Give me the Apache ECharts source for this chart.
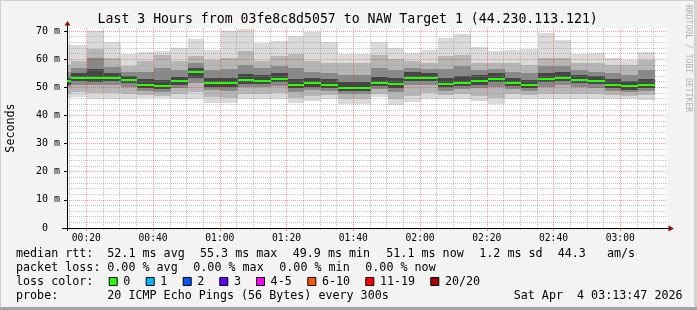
<!DOCTYPE html>
<html><head><meta charset="utf-8">
<script src="https://cdn.jsdelivr.net/npm/echarts@6/dist/echarts.min.js"></script>
<style>html,body{margin:0;padding:0;background:#f3f3f3}#c{width:697px;height:310px}</style>
</head><body><div id="c"></div>
<script>
// ---- data ----
const stepEnds = ['00:15','00:20','00:25','00:30','00:35','00:40','00:45','00:50','00:55','01:00','01:05','01:10',
  '01:15','01:20','01:25','01:30','01:35','01:40','01:45','01:50','01:55','02:00','02:05','02:10',
  '02:15','02:20','02:25','02:30','02:35','02:40','02:45','02:50','02:55','03:00','03:05','03:10'];
const median = [52.1,53.5,53.5,53.5,52.7,51.0,50.5,52.1,55.3,51.7,51.7,52.7,52.4,53.1,51.0,51.4,51.0,49.9,49.9,51.7,51.2,53.5,53.5,51.2,51.7,52.4,53.1,51.7,51.0,53.1,53.5,52.7,52.4,51.0,50.5,51.0];
const pingMax = [65.0,64.9,70.0,66.3,61.8,62.7,62.8,64.0,67.1,63.3,70.1,70.8,65.7,66.5,68.4,69.6,66.1,61.8,61.9,66.3,64.0,62.3,63.3,67.4,68.8,64.2,62.8,63.4,63.8,69.5,66.9,61.8,62.3,60.4,59.8,62.7];
const ping90 = [58.0,59.2,63.5,60.4,57.5,59.2,61.5,59.2,61.0,59.8,60.5,63.0,59.5,61.0,62.0,59.5,58.5,58.5,58.5,61.6,60.0,59.5,58.8,61.0,61.6,58.5,58.8,58.8,58.0,60.5,60.5,58.8,58.5,58.0,58.0,59.8];
const ping75 = [55.5,56.8,60.5,57.4,55.3,55.5,57.0,56.0,58.5,56.0,56.5,58.0,57.0,57.5,57.0,55.5,55.0,54.5,54.5,57.0,56.0,57.0,56.5,56.5,57.5,56.0,56.5,55.5,55.0,57.5,57.5,56.0,55.5,55.0,54.5,56.0];
const ping60 = [53.5,55.0,56.5,55.0,54.0,52.8,52.5,53.8,57.0,53.5,53.5,54.8,54.5,55.0,53.0,53.2,52.8,51.8,51.8,53.8,53.2,55.5,55.0,53.5,54.0,54.3,55.0,53.5,52.5,55.0,55.3,54.3,54.0,52.8,52.3,53.0];
const ping40 = [51.0,52.3,52.0,52.3,51.5,49.8,49.3,50.8,53.5,50.3,50.3,51.3,51.2,51.8,49.8,50.2,49.8,48.6,48.6,50.5,49.8,52.2,52.3,50.0,50.5,51.0,51.8,50.5,49.8,51.8,52.2,51.5,51.2,49.8,49.2,49.8];
const ping25 = [50.0,51.0,50.8,51.0,50.2,48.6,48.2,49.6,51.5,49.0,48.8,50.0,50.0,50.5,48.5,49.0,48.6,47.5,47.5,49.3,48.5,50.8,51.0,48.8,49.3,49.8,50.3,49.3,48.7,50.3,50.8,50.2,49.8,48.7,48.2,48.6];
const ping10 = [47.8,48.3,48.0,48.0,47.8,47.2,47.0,47.8,48.3,46.5,46.3,47.5,47.5,48.0,46.3,47.0,47.2,45.8,45.8,47.8,45.8,47.0,48.0,47.3,47.6,46.8,46.2,47.6,47.4,47.6,47.8,47.8,47.6,47.2,47.0,47.2];
const pingMin = [46.3,46.5,46.0,46.0,46.0,46.3,46.3,46.0,46.0,44.5,44.5,45.7,45.7,46.0,44.5,45.1,45.7,44.1,44.1,46.5,43.9,44.8,46.0,46.0,46.0,45.1,44.1,46.0,46.0,45.7,45.7,46.0,46.0,46.0,46.0,45.4];
const xMajorLabels = ['00:20','00:40','01:00','01:20','01:40','02:00','02:20','02:40','03:00'];
const xMinorTimes = ['00:15','00:25','00:30','00:35','00:45','00:50','00:55','01:05','01:10','01:15','01:25','01:30','01:35',
  '01:45','01:50','01:55','02:05','02:10','02:15','02:25','02:30','02:35','02:45','02:50','02:55','03:05','03:10'];
const yMajor = [0,10,20,30,40,50,60,70];
const yMinor = [2,4,6,8,12,14,16,18,22,24,26,28,32,34,36,38,42,44,46,48,52,54,56,58,62,64,66,68];
const xStart = '00:14:12', xEnd = '03:14:00';
const yTop = 71.1;

// ---- helpers ----
const toMin = s => { const p = s.split(':').map(Number); return p[0]*60 + p[1] + (p[2]||0)/60; };
const fmt = v => { const h = Math.floor(v/60), m = Math.round(v%60); return String(h).padStart(2,'0')+':'+String(m).padStart(2,'0'); };
const STEP = 5, SHIFT = 0.31;
const MONO = '"DejaVu Sans Mono", monospace';
const GL = 67, GT = 28, GW = 600, GH = 200;

const smokeData = stepEnds.map((s,i)=>[toMin(s), pingMin[i], ping10[i], ping25[i], ping40[i], ping60[i], ping75[i], ping90[i], pingMax[i]]);
const medData = stepEnds.map((s,i)=>[toMin(s), median[i]]);
const bandColors = ['#dadada','#b6b6b6','#888888','#464646'];

function smokeItem(params, api){
  const t1 = api.value(0) + SHIFT, t0 = t1 - STEP;
  const children = [];
  for (let b=0;b<4;b++){
    const lo = api.coord([t0, api.value(1+b)]);
    const hi = api.coord([t1, api.value(8-b)]);
    const x0 = Math.round(lo[0]), x1 = Math.round(hi[0]);
    const y0 = Math.round(hi[1]), y1 = Math.round(lo[1]);
    children.push({type:'rect', shape:{x:x0, y:y0, width:x1-x0, height:y1-y0}, style:{fill:bandColors[b]}});
  }
  return {type:'group', children};
}
function medItem(params, api){
  const t1 = api.value(0) + SHIFT, t0 = t1 - STEP;
  const a = api.coord([t0, api.value(1)]), b = api.coord([t1, api.value(1)]);
  const x0 = Math.round(a[0]), x1 = Math.round(b[0]), y = Math.round(a[1]);
  return {type:'rect', shape:{x:x0, y:y-1, width:x1-x0, height:2}, style:{fill:'#26ff00'}};
}

const chart = echarts.init(document.getElementById('c'), null, {renderer:'canvas'});
const red = 'rgba(255,0,0,0.38)', gray = 'rgba(150,150,150,0.55)';
const legend = [
  ['median rtt:',16,254.3],['52.1 ms avg',107.3,254.3],['55.3 ms max',200,254.3],['49.9 ms min',292.7,254.3],
  ['51.1 ms now',386.3,254.3],['1.2 ms sd',479.3,254.3],['44.3',557.7,254.3],['am/s',607,254.3],
  ['packet loss:',16,268.3],['0.00 % avg',107.3,268.3],['0.00 % max',193.3,268.3],['0.00 % min',279.3,268.3],['0.00 % now',365.3,268.3],
  ['loss color:',16,282],
  ['probe:',16,295.7],['20 ICMP Echo Pings (56 Bytes) every 300s',107.3,295.7],['Sat Apr  4 03:13:47 2026',513.7,295.7]
];
const lossKeys = [['0','#26ff00',108.7],['1','#00b8ff',145.7],['2','#0059ff',182.7],['3','#5e00ff',219.3],
  ['4-5','#ff00ff',256],['6-10','#ff5500',307.3],['11-19','#ff0000',365.3],['20/20','#a10000',430.3]];
const graphics = [];
legend.forEach(([t,x,y])=>graphics.push({type:'text', x, y, style:{text:t, font:'11.7px '+MONO, fill:'#000', textVerticalAlign:'middle'}}));
lossKeys.forEach(([t,c,x])=>{
  graphics.push({type:'rect', shape:{x:x+0.5, y:277.5, width:8, height:8}, style:{fill:c, stroke:'#000', lineWidth:1}});
  graphics.push({type:'text', x:x+14.6, y:282, style:{text:t, font:'11.7px '+MONO, fill:'#000', textVerticalAlign:'middle'}});
});
graphics.push({type:'text', x:347.7, y:19.3, style:{text:'Last 3 Hours from 03fe8c8d5057 to NAW Target 1 (44.230.113.121)', font:'13.2px '+MONO, fill:'#000', textAlign:'center', textVerticalAlign:'middle'}});
graphics.push({type:'text', x:11, y:128, rotation:Math.PI/2, style:{text:'Seconds', font:'11.7px '+MONO, fill:'#000', textAlign:'center', textVerticalAlign:'middle'}});
graphics.push({type:'text', x:688, y:5, rotation:-Math.PI/2, style:{text:'RRDTOOL / TOBI OETIKER', font:'8.1px '+MONO, fill:'#b0b0b0', textAlign:'left', textVerticalAlign:'middle'}});
// frame
graphics.push({type:'rect', shape:{x:0,y:0,width:697,height:1}, style:{fill:'#cfcfcf'}});
graphics.push({type:'rect', shape:{x:0,y:0,width:1,height:310}, style:{fill:'#cfcfcf'}});
graphics.push({type:'rect', shape:{x:694,y:0,width:3,height:310}, style:{fill:'#d2d2d2'}});
graphics.push({type:'rect', shape:{x:0,y:307,width:697,height:3}, style:{fill:'#a3a3a3'}});
// axis extensions and arrows
graphics.push({type:'line', shape:{x1:67.5,y1:22,x2:67.5,y2:GT}, style:{stroke:'#000',lineWidth:1}, z:10});
graphics.push({type:'line', shape:{x1:67.5,y1:GT+GH,x2:67.5,y2:GT+GH+3}, style:{stroke:'#000',lineWidth:1}, z:10});
graphics.push({type:'line', shape:{x1:62,y1:228.5,x2:GL,y2:228.5}, style:{stroke:'#000',lineWidth:1}, z:10});
graphics.push({type:'line', shape:{x1:GL+GW,y1:228.5,x2:670,y2:228.5}, style:{stroke:'#000',lineWidth:1}, z:10});
graphics.push({type:'polygon', shape:{points:[[64.5,25.5],[70.5,25.5],[67.5,21]]}, style:{fill:'#8b1010'}, z:11});
graphics.push({type:'polygon', shape:{points:[[668.5,225.5],[668.5,231.5],[674,228.5]]}, style:{fill:'#8b1010'}, z:11});

const xMajor = xMajorLabels.map(toMin), xMinor = xMinorTimes.map(toMin);
chart.setOption({
  animation:false,
  backgroundColor:'#f3f3f3',
  grid:{left:GL, top:GT, width:GW, height:GH, show:true, backgroundColor:'#ffffff', borderWidth:0, containLabel:false},
  xAxis:[
    {type:'value', position:'bottom', min:toMin(xStart), max:toMin(xEnd), z:3,
     axisLine:{show:true, onZero:false, lineStyle:{color:'#000', width:1}},
     axisTick:{show:true, customValues:xMajor, length:3, lineStyle:{color:'rgba(255,0,0,0.5)'}},
     axisLabel:{show:true, customValues:xMajor, formatter:fmt, color:'#000', fontFamily:MONO, fontSize:9.7, margin:5},
     splitLine:{show:true, lineStyle:{color:red, type:[1,1], width:1}}},
    {type:'value', position:'bottom', min:toMin(xStart), max:toMin(xEnd), z:2,
     axisLine:{show:false, onZero:false},
     axisTick:{show:true, customValues:xMinor, length:2, lineStyle:{color:'rgba(150,150,150,0.6)'}},
     axisLabel:{show:false},
     splitLine:{show:true, lineStyle:{color:gray, type:[1,1], width:1}}}
  ],
  yAxis:[
    {type:'value', min:0, max:yTop, z:3,
     axisLine:{show:true, onZero:false, lineStyle:{color:'#000', width:1}},
     axisTick:{show:true, customValues:yMajor, length:3, lineStyle:{color:'#000'}},
     axisLabel:{show:true, customValues:yMajor, formatter:v=> v===0 ? '0  ' : v+' m', color:'#000', fontFamily:MONO, fontSize:10, margin:7},
     splitLine:{show:true, lineStyle:{color:red, type:[1,1], width:1}}},
    {type:'value', min:0, max:yTop, z:2,
     axisLine:{show:false, onZero:false},
     axisTick:{show:false, customValues:yMinor},
     axisLabel:{show:false},
     splitLine:{show:true, lineStyle:{color:gray, type:[1,1], width:1}}}
  ],
  series:[
    {type:'custom', name:'smoke', xAxisIndex:0, yAxisIndex:0, z:1, clip:true, renderItem:smokeItem,
     encode:{x:0, y:[1,2,3,4,5,6,7,8]}, data:smokeData},
    {type:'custom', name:'median rtt', xAxisIndex:0, yAxisIndex:0, z:5, clip:true, renderItem:medItem,
     encode:{x:0, y:1}, data:medData}
  ],
  graphic:graphics
});
</script></body></html>
